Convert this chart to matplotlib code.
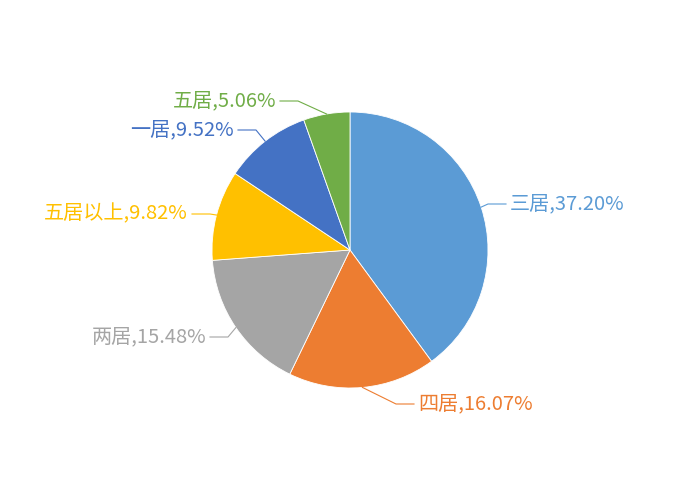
import numpy as np
import matplotlib.pyplot as plt

plt.rcParams['font.family'] = ['Noto Sans CJK SC', 'DejaVu Sans']

# data
labels = ["三居", "四居", "两居", "五居以上", "一居", "五居"]
shares = [37.20, 16.07, 15.48, 9.82, 9.52, 5.06]
colors = ["#5B9BD5", "#ED7D31", "#A5A5A5", "#FFC000", "#4472C4", "#70AD47"]

# label text anchor positions (pixels from top-left) and side
label_pos = [(510, 204), (418, 404), (206, 337), (188, 214), (234, 130), (276, 101)]
label_side = [1, 1, -1, -1, -1, -1]

W, H = 700, 500
cx, cy, R = 350, 250, 138

fig = plt.figure(figsize=(7, 5), dpi=100)
ax = fig.add_axes([0, 0, 1, 1])

wedges, _ = ax.pie(shares, colors=colors, startangle=90, counterclock=False,
                   center=(cx, cy), radius=R, frame=True,
                   wedgeprops=dict(edgecolor="white", linewidth=0.6))
ax.set_xlim(0, W)
ax.set_ylim(0, H)
ax.set_aspect("equal")
ax.axis("off")

for w, lab, val, col, (tx, ty), side in zip(wedges, labels, shares, colors, label_pos, label_side):
    mid = np.deg2rad((w.theta1 + w.theta2) / 2)
    ex = cx + R * np.cos(mid)
    ey = cy + R * np.sin(mid)
    ty_d = H - ty
    elbow_x = tx - side * 22
    end_x = tx - side * 4
    ax.plot([ex, elbow_x, end_x], [ey, ty_d, ty_d], color=col, lw=0.8)
    ax.text(tx, ty_d, f"{lab},{val:.2f}%", color=col, fontsize=14.5,
            ha="left" if side > 0 else "right", va="center")

plt.savefig("out.png", dpi=100)
plt.close()
